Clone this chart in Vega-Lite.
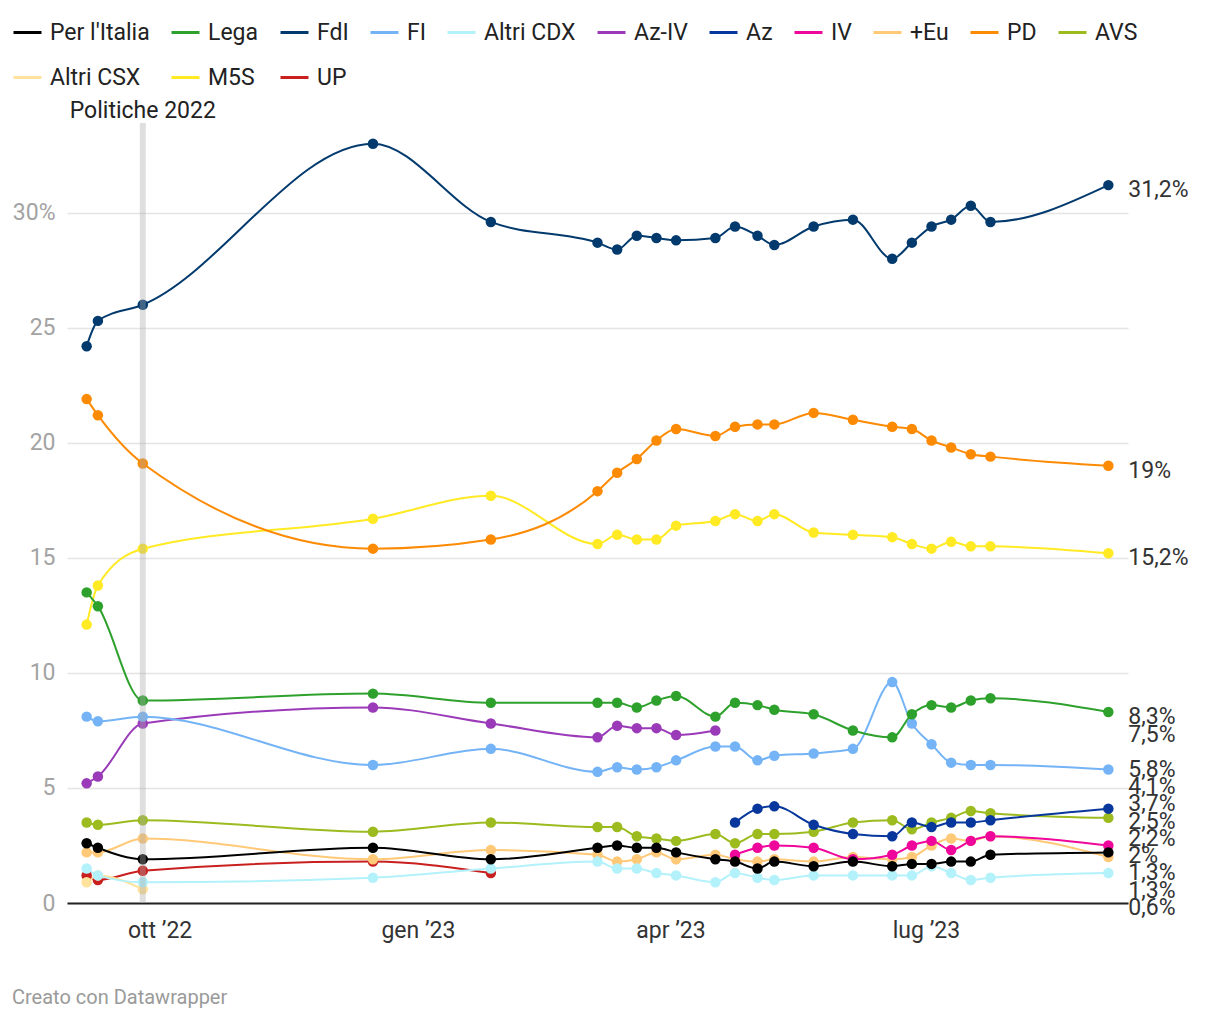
{
  "$schema": "https://vega.github.io/schema/vega-lite/v6.json",
  "width": 1061,
  "height": 780,
  "autosize": {"type": "none"},
  "padding": {"left": 67, "top": 123, "right": 92, "bottom": 117},
  "background": "white",
  "title": {"text": "Creato con Datawrapper", "orient": "bottom", "anchor": "start", "frame": "bounds", "fontSize": 20, "fontWeight": "normal", "color": "#9a9a9a", "offset": 46, "font": "Roboto"},
  "config": {
    "font": "Roboto",
    "view": {"stroke": null},
    "axis": {"labelFont": "Roboto", "titleFont": "Roboto"},
    "legend": {"labelFont": "Roboto"}
  },
  "datasets": {
    "polls": [
      {"date": "2022-09-05", "party": "UP", "value": 1.2},
      {"date": "2022-09-09", "party": "UP", "value": 1.0},
      {"date": "2022-09-25", "party": "UP", "value": 1.4},
      {"date": "2022-12-16", "party": "UP", "value": 1.8},
      {"date": "2023-01-27", "party": "UP", "value": 1.3},

      {"date": "2022-09-05", "party": "M5S", "value": 12.1},
      {"date": "2022-09-09", "party": "M5S", "value": 13.8},
      {"date": "2022-09-25", "party": "M5S", "value": 15.4},
      {"date": "2022-12-16", "party": "M5S", "value": 16.7},
      {"date": "2023-01-27", "party": "M5S", "value": 17.7},
      {"date": "2023-03-06", "party": "M5S", "value": 15.6},
      {"date": "2023-03-13", "party": "M5S", "value": 16.0},
      {"date": "2023-03-20", "party": "M5S", "value": 15.8},
      {"date": "2023-03-27", "party": "M5S", "value": 15.8},
      {"date": "2023-04-03", "party": "M5S", "value": 16.4},
      {"date": "2023-04-17", "party": "M5S", "value": 16.6},
      {"date": "2023-04-24", "party": "M5S", "value": 16.9},
      {"date": "2023-05-02", "party": "M5S", "value": 16.6},
      {"date": "2023-05-08", "party": "M5S", "value": 16.9},
      {"date": "2023-05-22", "party": "M5S", "value": 16.1},
      {"date": "2023-06-05", "party": "M5S", "value": 16.0},
      {"date": "2023-06-19", "party": "M5S", "value": 15.9},
      {"date": "2023-06-26", "party": "M5S", "value": 15.6},
      {"date": "2023-07-03", "party": "M5S", "value": 15.4},
      {"date": "2023-07-10", "party": "M5S", "value": 15.7},
      {"date": "2023-07-17", "party": "M5S", "value": 15.5},
      {"date": "2023-07-24", "party": "M5S", "value": 15.5},
      {"date": "2023-09-04", "party": "M5S", "value": 15.2},

      {"date": "2022-09-05", "party": "Altri CSX", "value": 0.9},
      {"date": "2022-09-09", "party": "Altri CSX", "value": 1.2},
      {"date": "2022-09-25", "party": "Altri CSX", "value": 0.6},

      {"date": "2022-09-05", "party": "AVS", "value": 3.5},
      {"date": "2022-09-09", "party": "AVS", "value": 3.4},
      {"date": "2022-09-25", "party": "AVS", "value": 3.6},
      {"date": "2022-12-16", "party": "AVS", "value": 3.1},
      {"date": "2023-01-27", "party": "AVS", "value": 3.5},
      {"date": "2023-03-06", "party": "AVS", "value": 3.3},
      {"date": "2023-03-13", "party": "AVS", "value": 3.3},
      {"date": "2023-03-20", "party": "AVS", "value": 2.9},
      {"date": "2023-03-27", "party": "AVS", "value": 2.8},
      {"date": "2023-04-03", "party": "AVS", "value": 2.7},
      {"date": "2023-04-17", "party": "AVS", "value": 3.0},
      {"date": "2023-04-24", "party": "AVS", "value": 2.6},
      {"date": "2023-05-02", "party": "AVS", "value": 3.0},
      {"date": "2023-05-08", "party": "AVS", "value": 3.0},
      {"date": "2023-05-22", "party": "AVS", "value": 3.1},
      {"date": "2023-06-05", "party": "AVS", "value": 3.5},
      {"date": "2023-06-19", "party": "AVS", "value": 3.6},
      {"date": "2023-06-26", "party": "AVS", "value": 3.2},
      {"date": "2023-07-03", "party": "AVS", "value": 3.5},
      {"date": "2023-07-10", "party": "AVS", "value": 3.7},
      {"date": "2023-07-17", "party": "AVS", "value": 4.0},
      {"date": "2023-07-24", "party": "AVS", "value": 3.9},
      {"date": "2023-09-04", "party": "AVS", "value": 3.7},

      {"date": "2022-09-05", "party": "PD", "value": 21.9},
      {"date": "2022-09-09", "party": "PD", "value": 21.2},
      {"date": "2022-09-25", "party": "PD", "value": 19.1},
      {"date": "2022-12-16", "party": "PD", "value": 15.4},
      {"date": "2023-01-27", "party": "PD", "value": 15.8},
      {"date": "2023-03-06", "party": "PD", "value": 17.9},
      {"date": "2023-03-13", "party": "PD", "value": 18.7},
      {"date": "2023-03-20", "party": "PD", "value": 19.3},
      {"date": "2023-03-27", "party": "PD", "value": 20.1},
      {"date": "2023-04-03", "party": "PD", "value": 20.6},
      {"date": "2023-04-17", "party": "PD", "value": 20.3},
      {"date": "2023-04-24", "party": "PD", "value": 20.7},
      {"date": "2023-05-02", "party": "PD", "value": 20.8},
      {"date": "2023-05-08", "party": "PD", "value": 20.8},
      {"date": "2023-05-22", "party": "PD", "value": 21.3},
      {"date": "2023-06-05", "party": "PD", "value": 21.0},
      {"date": "2023-06-19", "party": "PD", "value": 20.7},
      {"date": "2023-06-26", "party": "PD", "value": 20.6},
      {"date": "2023-07-03", "party": "PD", "value": 20.1},
      {"date": "2023-07-10", "party": "PD", "value": 19.8},
      {"date": "2023-07-17", "party": "PD", "value": 19.5},
      {"date": "2023-07-24", "party": "PD", "value": 19.4},
      {"date": "2023-09-04", "party": "PD", "value": 19.0},

      {"date": "2022-09-05", "party": "+Eu", "value": 2.2},
      {"date": "2022-09-09", "party": "+Eu", "value": 2.2},
      {"date": "2022-09-25", "party": "+Eu", "value": 2.8},
      {"date": "2022-12-16", "party": "+Eu", "value": 1.9},
      {"date": "2023-01-27", "party": "+Eu", "value": 2.3},
      {"date": "2023-03-06", "party": "+Eu", "value": 2.1},
      {"date": "2023-03-13", "party": "+Eu", "value": 1.8},
      {"date": "2023-03-20", "party": "+Eu", "value": 1.9},
      {"date": "2023-03-27", "party": "+Eu", "value": 2.2},
      {"date": "2023-04-03", "party": "+Eu", "value": 1.9},
      {"date": "2023-04-17", "party": "+Eu", "value": 2.1},
      {"date": "2023-04-24", "party": "+Eu", "value": 1.9},
      {"date": "2023-05-02", "party": "+Eu", "value": 1.8},
      {"date": "2023-05-08", "party": "+Eu", "value": 1.9},
      {"date": "2023-05-22", "party": "+Eu", "value": 1.8},
      {"date": "2023-06-05", "party": "+Eu", "value": 2.0},
      {"date": "2023-06-19", "party": "+Eu", "value": 1.9},
      {"date": "2023-06-26", "party": "+Eu", "value": 2.0},
      {"date": "2023-07-03", "party": "+Eu", "value": 2.5},
      {"date": "2023-07-10", "party": "+Eu", "value": 2.8},
      {"date": "2023-07-17", "party": "+Eu", "value": 2.7},
      {"date": "2023-07-24", "party": "+Eu", "value": 2.9},
      {"date": "2023-09-04", "party": "+Eu", "value": 2.0},

      {"date": "2023-04-24", "party": "IV", "value": 2.1},
      {"date": "2023-05-02", "party": "IV", "value": 2.4},
      {"date": "2023-05-08", "party": "IV", "value": 2.5},
      {"date": "2023-05-22", "party": "IV", "value": 2.4},
      {"date": "2023-06-05", "party": "IV", "value": 1.9},
      {"date": "2023-06-19", "party": "IV", "value": 2.1},
      {"date": "2023-06-26", "party": "IV", "value": 2.5},
      {"date": "2023-07-03", "party": "IV", "value": 2.7},
      {"date": "2023-07-10", "party": "IV", "value": 2.3},
      {"date": "2023-07-17", "party": "IV", "value": 2.7},
      {"date": "2023-07-24", "party": "IV", "value": 2.9},
      {"date": "2023-09-04", "party": "IV", "value": 2.5},

      {"date": "2023-04-24", "party": "Az", "value": 3.5},
      {"date": "2023-05-02", "party": "Az", "value": 4.1},
      {"date": "2023-05-08", "party": "Az", "value": 4.2},
      {"date": "2023-05-22", "party": "Az", "value": 3.4},
      {"date": "2023-06-05", "party": "Az", "value": 3.0},
      {"date": "2023-06-19", "party": "Az", "value": 2.9},
      {"date": "2023-06-26", "party": "Az", "value": 3.5},
      {"date": "2023-07-03", "party": "Az", "value": 3.3},
      {"date": "2023-07-10", "party": "Az", "value": 3.5},
      {"date": "2023-07-17", "party": "Az", "value": 3.5},
      {"date": "2023-07-24", "party": "Az", "value": 3.6},
      {"date": "2023-09-04", "party": "Az", "value": 4.1},

      {"date": "2022-09-05", "party": "Az-IV", "value": 5.2},
      {"date": "2022-09-09", "party": "Az-IV", "value": 5.5},
      {"date": "2022-09-25", "party": "Az-IV", "value": 7.8},
      {"date": "2022-12-16", "party": "Az-IV", "value": 8.5},
      {"date": "2023-01-27", "party": "Az-IV", "value": 7.8},
      {"date": "2023-03-06", "party": "Az-IV", "value": 7.2},
      {"date": "2023-03-13", "party": "Az-IV", "value": 7.7},
      {"date": "2023-03-20", "party": "Az-IV", "value": 7.6},
      {"date": "2023-03-27", "party": "Az-IV", "value": 7.6},
      {"date": "2023-04-03", "party": "Az-IV", "value": 7.3},
      {"date": "2023-04-17", "party": "Az-IV", "value": 7.5},

      {"date": "2022-09-05", "party": "Altri CDX", "value": 1.5},
      {"date": "2022-09-09", "party": "Altri CDX", "value": 1.2},
      {"date": "2022-09-25", "party": "Altri CDX", "value": 0.9},
      {"date": "2022-12-16", "party": "Altri CDX", "value": 1.1},
      {"date": "2023-01-27", "party": "Altri CDX", "value": 1.5},
      {"date": "2023-03-06", "party": "Altri CDX", "value": 1.8},
      {"date": "2023-03-13", "party": "Altri CDX", "value": 1.5},
      {"date": "2023-03-20", "party": "Altri CDX", "value": 1.5},
      {"date": "2023-03-27", "party": "Altri CDX", "value": 1.3},
      {"date": "2023-04-03", "party": "Altri CDX", "value": 1.2},
      {"date": "2023-04-17", "party": "Altri CDX", "value": 0.9},
      {"date": "2023-04-24", "party": "Altri CDX", "value": 1.3},
      {"date": "2023-05-02", "party": "Altri CDX", "value": 1.1},
      {"date": "2023-05-08", "party": "Altri CDX", "value": 1.0},
      {"date": "2023-05-22", "party": "Altri CDX", "value": 1.2},
      {"date": "2023-06-05", "party": "Altri CDX", "value": 1.2},
      {"date": "2023-06-19", "party": "Altri CDX", "value": 1.2},
      {"date": "2023-06-26", "party": "Altri CDX", "value": 1.2},
      {"date": "2023-07-03", "party": "Altri CDX", "value": 1.6},
      {"date": "2023-07-10", "party": "Altri CDX", "value": 1.3},
      {"date": "2023-07-17", "party": "Altri CDX", "value": 1.0},
      {"date": "2023-07-24", "party": "Altri CDX", "value": 1.1},
      {"date": "2023-09-04", "party": "Altri CDX", "value": 1.3},

      {"date": "2022-09-05", "party": "FI", "value": 8.1},
      {"date": "2022-09-09", "party": "FI", "value": 7.9},
      {"date": "2022-09-25", "party": "FI", "value": 8.1},
      {"date": "2022-12-16", "party": "FI", "value": 6.0},
      {"date": "2023-01-27", "party": "FI", "value": 6.7},
      {"date": "2023-03-06", "party": "FI", "value": 5.7},
      {"date": "2023-03-13", "party": "FI", "value": 5.9},
      {"date": "2023-03-20", "party": "FI", "value": 5.8},
      {"date": "2023-03-27", "party": "FI", "value": 5.9},
      {"date": "2023-04-03", "party": "FI", "value": 6.2},
      {"date": "2023-04-17", "party": "FI", "value": 6.8},
      {"date": "2023-04-24", "party": "FI", "value": 6.8},
      {"date": "2023-05-02", "party": "FI", "value": 6.2},
      {"date": "2023-05-08", "party": "FI", "value": 6.4},
      {"date": "2023-05-22", "party": "FI", "value": 6.5},
      {"date": "2023-06-05", "party": "FI", "value": 6.7},
      {"date": "2023-06-19", "party": "FI", "value": 9.6},
      {"date": "2023-06-26", "party": "FI", "value": 7.8},
      {"date": "2023-07-03", "party": "FI", "value": 6.9},
      {"date": "2023-07-10", "party": "FI", "value": 6.1},
      {"date": "2023-07-17", "party": "FI", "value": 6.0},
      {"date": "2023-07-24", "party": "FI", "value": 6.0},
      {"date": "2023-09-04", "party": "FI", "value": 5.8},

      {"date": "2022-09-05", "party": "FdI", "value": 24.2},
      {"date": "2022-09-09", "party": "FdI", "value": 25.3},
      {"date": "2022-09-25", "party": "FdI", "value": 26.0},
      {"date": "2022-12-16", "party": "FdI", "value": 33.0},
      {"date": "2023-01-27", "party": "FdI", "value": 29.6},
      {"date": "2023-03-06", "party": "FdI", "value": 28.7},
      {"date": "2023-03-13", "party": "FdI", "value": 28.4},
      {"date": "2023-03-20", "party": "FdI", "value": 29.0},
      {"date": "2023-03-27", "party": "FdI", "value": 28.9},
      {"date": "2023-04-03", "party": "FdI", "value": 28.8},
      {"date": "2023-04-17", "party": "FdI", "value": 28.9},
      {"date": "2023-04-24", "party": "FdI", "value": 29.4},
      {"date": "2023-05-02", "party": "FdI", "value": 29.0},
      {"date": "2023-05-08", "party": "FdI", "value": 28.6},
      {"date": "2023-05-22", "party": "FdI", "value": 29.4},
      {"date": "2023-06-05", "party": "FdI", "value": 29.7},
      {"date": "2023-06-19", "party": "FdI", "value": 28.0},
      {"date": "2023-06-26", "party": "FdI", "value": 28.7},
      {"date": "2023-07-03", "party": "FdI", "value": 29.4},
      {"date": "2023-07-10", "party": "FdI", "value": 29.7},
      {"date": "2023-07-17", "party": "FdI", "value": 30.3},
      {"date": "2023-07-24", "party": "FdI", "value": 29.6},
      {"date": "2023-09-04", "party": "FdI", "value": 31.2},

      {"date": "2022-09-05", "party": "Lega", "value": 13.5},
      {"date": "2022-09-09", "party": "Lega", "value": 12.9},
      {"date": "2022-09-25", "party": "Lega", "value": 8.8},
      {"date": "2022-12-16", "party": "Lega", "value": 9.1},
      {"date": "2023-01-27", "party": "Lega", "value": 8.7},
      {"date": "2023-03-06", "party": "Lega", "value": 8.7},
      {"date": "2023-03-13", "party": "Lega", "value": 8.7},
      {"date": "2023-03-20", "party": "Lega", "value": 8.5},
      {"date": "2023-03-27", "party": "Lega", "value": 8.8},
      {"date": "2023-04-03", "party": "Lega", "value": 9.0},
      {"date": "2023-04-17", "party": "Lega", "value": 8.1},
      {"date": "2023-04-24", "party": "Lega", "value": 8.7},
      {"date": "2023-05-02", "party": "Lega", "value": 8.6},
      {"date": "2023-05-08", "party": "Lega", "value": 8.4},
      {"date": "2023-05-22", "party": "Lega", "value": 8.2},
      {"date": "2023-06-05", "party": "Lega", "value": 7.5},
      {"date": "2023-06-19", "party": "Lega", "value": 7.2},
      {"date": "2023-06-26", "party": "Lega", "value": 8.2},
      {"date": "2023-07-03", "party": "Lega", "value": 8.6},
      {"date": "2023-07-10", "party": "Lega", "value": 8.5},
      {"date": "2023-07-17", "party": "Lega", "value": 8.8},
      {"date": "2023-07-24", "party": "Lega", "value": 8.9},
      {"date": "2023-09-04", "party": "Lega", "value": 8.3},

      {"date": "2022-09-05", "party": "Per l'Italia", "value": 2.6},
      {"date": "2022-09-09", "party": "Per l'Italia", "value": 2.4},
      {"date": "2022-09-25", "party": "Per l'Italia", "value": 1.9},
      {"date": "2022-12-16", "party": "Per l'Italia", "value": 2.4},
      {"date": "2023-01-27", "party": "Per l'Italia", "value": 1.9},
      {"date": "2023-03-06", "party": "Per l'Italia", "value": 2.4},
      {"date": "2023-03-13", "party": "Per l'Italia", "value": 2.5},
      {"date": "2023-03-20", "party": "Per l'Italia", "value": 2.4},
      {"date": "2023-03-27", "party": "Per l'Italia", "value": 2.4},
      {"date": "2023-04-03", "party": "Per l'Italia", "value": 2.2},
      {"date": "2023-04-17", "party": "Per l'Italia", "value": 1.9},
      {"date": "2023-04-24", "party": "Per l'Italia", "value": 1.8},
      {"date": "2023-05-02", "party": "Per l'Italia", "value": 1.5},
      {"date": "2023-05-08", "party": "Per l'Italia", "value": 1.8},
      {"date": "2023-05-22", "party": "Per l'Italia", "value": 1.6},
      {"date": "2023-06-05", "party": "Per l'Italia", "value": 1.8},
      {"date": "2023-06-19", "party": "Per l'Italia", "value": 1.6},
      {"date": "2023-06-26", "party": "Per l'Italia", "value": 1.7},
      {"date": "2023-07-03", "party": "Per l'Italia", "value": 1.7},
      {"date": "2023-07-10", "party": "Per l'Italia", "value": 1.8},
      {"date": "2023-07-17", "party": "Per l'Italia", "value": 1.8},
      {"date": "2023-07-24", "party": "Per l'Italia", "value": 2.1},
      {"date": "2023-09-04", "party": "Per l'Italia", "value": 2.2}
    ],
    "events": [
      {"date": "2022-09-25", "event": "Politiche 2022"}
    ]
  },
  "data": {"name": "polls"},
  "layer": [
    {
      "mark": {"type": "line", "interpolate": "monotone", "strokeWidth": 2},
      "encoding": {
        "x": {
          "field": "date", "type": "temporal",
          "scale": {"type": "utc", "domain": [{"year": 2022, "month": "aug", "date": 29, "utc": true}, {"year": 2023, "month": "sep", "date": 11, "utc": true}]},
          "axis": {
            "title": null, "grid": false, "ticks": false,
            "domainColor": "#222222", "domainWidth": 2,
            "labelFontSize": 23, "labelColor": "#333333", "labelPadding": 16,
            "values": [
              {"year": 2022, "month": "oct", "date": 1, "utc": true},
              {"year": 2023, "month": "jan", "date": 1, "utc": true},
              {"year": 2023, "month": "apr", "date": 1, "utc": true},
              {"year": 2023, "month": "jul", "date": 1, "utc": true}
            ],
            "labelExpr": "['gen','feb','mar','apr','mag','giu','lug','ago','set','ott','nov','dic'][utcmonth(datum.value)] + ' ’' + utcFormat(datum.value, '%y')"
          }
        },
        "y": {
          "field": "value", "type": "quantitative",
          "scale": {"domain": [0, 33.9], "nice": false, "zero": true},
          "axis": {
            "title": null, "domain": false, "ticks": false,
            "values": [0, 5, 10, 15, 20, 25, 30],
            "gridColor": "#e4e4e4", "gridWidth": 1.5,
            "labelFontSize": 23, "labelColor": "#a3a3a3", "labelPadding": 12,
            "labelExpr": "datum.value == 30 ? '30%' : datum.label"
          }
        },
        "color": {
          "field": "party", "type": "nominal",
          "scale": {
            "domain": ["Per l'Italia", "Lega", "FdI", "FI", "Altri CDX", "Az-IV", "Az", "IV", "+Eu", "PD", "AVS", "Altri CSX", "M5S", "UP"],
            "range": ["#000000", "#2ea12d", "#033a6e", "#74b4f6", "#b3f1fb", "#9a3ab9", "#07379c", "#ef079b", "#ffc978", "#fd8a03", "#9bbb1f", "#ffe39c", "#ffea23", "#c91f1f"]
          },
          "legend": {
            "orient": "none", "legendX": -55, "legendY": -106,
            "direction": "horizontal", "columns": 11, "gridAlign": "none",
            "title": null, "padding": 0,
            "symbolType": "stroke", "symbolSize": 784, "symbolStrokeWidth": 3,
            "labelFontSize": 23, "labelColor": "#222222", "labelOffset": 7, "labelLimit": 400,
            "columnPadding": 15, "rowPadding": 17
          }
        }
      }
    },
    {
      "mark": {"type": "circle", "size": 110, "opacity": 1},
      "encoding": {
        "x": {"field": "date", "type": "temporal"},
        "y": {"field": "value", "type": "quantitative"},
        "fill": {
          "field": "party", "type": "nominal",
          "scale": {
            "domain": ["Per l'Italia", "Lega", "FdI", "FI", "Altri CDX", "Az-IV", "Az", "IV", "+Eu", "PD", "AVS", "Altri CSX", "M5S", "UP"],
            "range": ["#000000", "#2ea12d", "#033a6e", "#74b4f6", "#b3f1fb", "#9a3ab9", "#07379c", "#ef079b", "#ffc978", "#fd8a03", "#9bbb1f", "#ffe39c", "#ffea23", "#c91f1f"]
          },
          "legend": null
        }
      }
    },
    {
      "data": {"name": "events"},
      "mark": {"type": "rule", "color": "#aaaaaa", "opacity": 0.38, "strokeWidth": 6},
      "encoding": {"x": {"field": "date", "type": "temporal"}}
    },
    {
      "data": {"name": "events"},
      "mark": {"type": "text", "fontSize": 23, "color": "#222222", "align": "center", "baseline": "alphabetic", "dy": -5},
      "encoding": {
        "x": {"field": "date", "type": "temporal"},
        "y": {"datum": 33.9, "type": "quantitative"},
        "text": {"field": "event"}
      }
    },
    {
      "transform": [
        {"aggregate": [{"op": "argmax", "field": "date", "as": "last"}], "groupby": ["party"]},
        {"calculate": "datum.last.value", "as": "lastValue"},
        {"joinaggregate": [{"op": "count", "as": "n"}]},
        {"window": [{"op": "row_number", "as": "rank"}], "sort": [{"field": "lastValue", "order": "descending"}]},
        {"calculate": "datum.lastValue + datum.rank * 0.75", "as": "t"},
        {"window": [{"op": "min", "field": "t", "as": "tmin"}], "sort": [{"field": "lastValue", "order": "descending"}], "frame": [null, 0], "ignorePeers": true},
        {"calculate": "max(datum.tmin - datum.rank * 0.75, (datum.n - datum.rank) * 0.75)", "as": "labelY"},
        {"calculate": "replace(format(datum.lastValue, '.3~r'), '.', ',') + '%'", "as": "label"}
      ],
      "mark": {"type": "text", "fontSize": 23, "color": "#333333", "align": "left", "baseline": "middle", "dx": 20, "dy": 5},
      "encoding": {
        "x": {"datum": {"year": 2023, "month": "sep", "date": 4, "utc": true}, "type": "temporal"},
        "y": {"field": "labelY", "type": "quantitative"},
        "text": {"field": "label"}
      }
    }
  ]
}
